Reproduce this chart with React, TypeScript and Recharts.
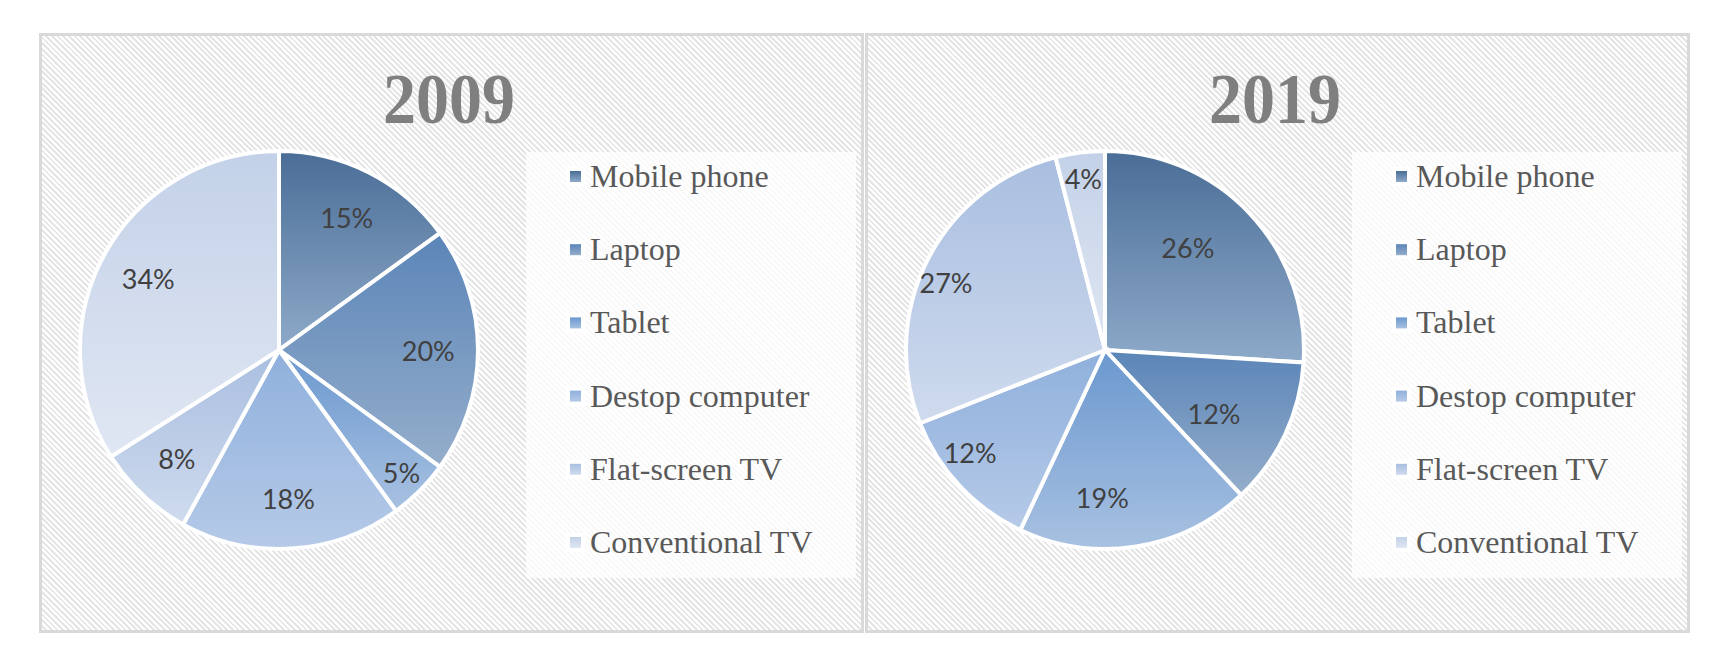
import React from 'react';
import { PieChart, Pie, Cell, Legend } from 'recharts';

const categories = ['Mobile phone', 'Laptop', 'Tablet', 'Destop computer', 'Flat-screen TV', 'Conventional TV'];
const values2009 = [15, 20, 5, 18, 8, 34];
const values2019 = [26, 12, 19, 12, 27, 4];
const years = ['2009', '2019'];

const gradTop = ['#4a6d97', '#5b85b8', '#6b98cf', '#8fb0dc', '#a9bee0', '#c3d1e8'];
const gradBottom = ['#8eaac9', '#95aecb', '#a8c1e1', '#b6cae8', '#cfdbee', '#e0e7f3'];

const RADIAN = Math.PI / 180;

const hatch =
  'repeating-linear-gradient(45deg, #ffffff 0px, #ffffff 2px, #e5e5e5 2px, #e5e5e5 4px)';

function makeLabel(shiftX: number) {
  return (props: any) => {
    const { cx, cy, midAngle, outerRadius, percent, value } = props;
    const small = percent < 0.06;
    const f = small ? 0.87 : 0.75;
    const r = outerRadius * f;
    const x = cx + r * Math.cos(-midAngle * RADIAN) + (small ? 0 : shiftX);
    const y = cy + r * Math.sin(-midAngle * RADIAN);
    return (
      <text
        x={x}
        y={y}
        textAnchor="middle"
        dominantBaseline="central"
        fill="#404040"
        fontFamily="Lato, 'Open Sans', sans-serif"
        fontSize={27}
      >
        {`${value}%`}
      </text>
    );
  };
}

function LegendBox() {
  return (
    <div style={{ width: 330, height: 426, background: 'rgba(255,255,255,0.75)' }}>
      <svg width={330} height={426} style={{ display: 'block' }}>
        {categories.map((c, i) => {
          const base = 35 + i * 73.2;
          return (
            <g key={c}>
              <rect x={40} y={base - 20} width={19} height={19} fill="#ffffff" />
              <rect x={44} y={base - 16} width={11} height={11} fill={`url(#lg${i})`} />
              <text
                x={64}
                y={base}
                fill="#595959"
                fontFamily="'Liberation Serif', 'Times New Roman', serif"
                fontSize={32}
              >
                {c}
              </text>
            </g>
          );
        })}
      </svg>
    </div>
  );
}

function Panel({ left, title, values, shiftX }: { left: number; title: string; values: number[]; shiftX: number }) {
  const data = categories.map((name, i) => ({ name, value: values[i] }));
  return (
    <div
      style={{
        position: 'absolute',
        left,
        top: 33,
        width: 825,
        height: 600,
        boxSizing: 'border-box',
        border: '3px solid #d9d9d9',
        background: hatch,
      }}
    >
      <PieChart width={819} height={594} margin={{ top: 0, right: 0, bottom: 0, left: 0 }}>
        <Pie
          data={data}
          dataKey="value"
          nameKey="name"
          cx={237}
          cy={314}
          outerRadius={199}
          startAngle={90}
          endAngle={-270}
          stroke="#ffffff"
          strokeWidth={4}
          label={makeLabel(shiftX)}
          labelLine={false}
          isAnimationActive={false}
        >
          {data.map((d, i) => (
            <Cell key={d.name} fill={`url(#sg${i})`} />
          ))}
        </Pie>
        <Legend
          layout="vertical"
          align="right"
          verticalAlign="top"
          content={() => <LegendBox />}
          wrapperStyle={{ left: 484, top: 116, right: 'auto', bottom: 'auto', width: 330, height: 426 }}
        />
      </PieChart>
      <div
        style={{
          position: 'absolute',
          left: 0,
          top: 30,
          width: 814,
          textAlign: 'center',
          fontFamily: "'Liberation Serif', 'Times New Roman', serif",
          fontWeight: 'bold',
          fontSize: 66,
          lineHeight: '66px',
          color: '#7f7f7f',
          pointerEvents: 'none',
        }}
      >
        <span style={{ display: 'inline-block', transform: 'scaleY(1.08)' }}>{title}</span>
      </div>
    </div>
  );
}

export default function App() {
  return (
    <div style={{ position: 'absolute', left: 0, top: 0, width: 1736, height: 670, background: '#fff' }}>
      <svg width={0} height={0} style={{ position: 'absolute' }}>
        <defs>
          {gradTop.map((t, i) => (
            <linearGradient key={`sg${i}`} id={`sg${i}`} x1="0" y1="0" x2="0" y2="1">
              <stop offset="0%" stopColor={t} />
              <stop offset="100%" stopColor={gradBottom[i]} />
            </linearGradient>
          ))}
          {gradTop.map((t, i) => (
            <linearGradient key={`lg${i}`} id={`lg${i}`} x1="0" y1="0" x2="0" y2="1">
              <stop offset="0%" stopColor={t} />
              <stop offset="100%" stopColor={gradBottom[i]} />
            </linearGradient>
          ))}
        </defs>
      </svg>
      <Panel left={39} title={years[0]} values={values2009} shiftX={0} />
      <Panel left={865} title={years[1]} values={values2019} shiftX={-26} />
    </div>
  );
}
